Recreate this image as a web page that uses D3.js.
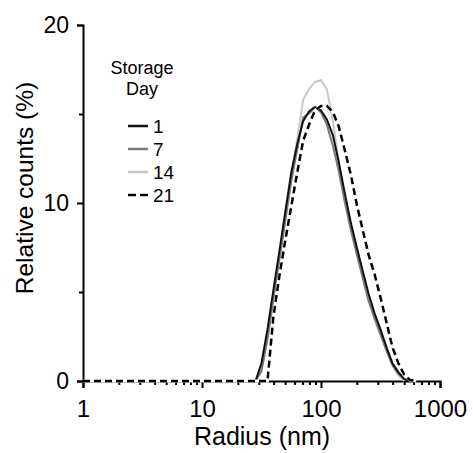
<!DOCTYPE html>
<html>
<head>
<meta charset="utf-8">
<script src="https://cdn.jsdelivr.net/npm/d3@7/dist/d3.min.js"></script>
<style>
  body { margin: 0; background: #fff; }
  svg { font-family: "Liberation Sans", Arial, sans-serif; }
</style>
</head>
<body>
<div id="chart"></div>
<script>
// size distribution (DLS), radius in nm, relative counts in %
var radius = [1, 28.2, 31.6, 35.5, 39.8, 44.7, 50.1, 56.2, 63.1, 70.8, 79.4, 89.1, 100, 112, 126, 141, 158, 178, 200, 224, 251, 282, 316, 355, 398, 447, 501, 562, 631]
var day1  = [null, 0, 1.0, 2.9, 5.1, 7.3, 9.5, 11.7, 13.3, 14.6, 15.15, 15.4, 15.2, 14.7, 13.8, 12.3, 10.6, 8.9, 7.5, 6.2, 4.9, 3.8, 2.9, 1.9, 1.0, 0.5, 0.1, 0, null]
var day7  = [null, 0, 0.6, 2.4, 4.5, 6.8, 9.0, 11.2, 13.0, 14.8, 15.05, 15.35, 15.1, 14.4, 13.2, 11.8, 10.1, 8.5, 7.1, 5.8, 4.5, 3.5, 2.6, 1.7, 0.9, 0.4, 0.1, 0, null]
var day14 = [null, 0, 0.5, 2.3, 4.5, 6.8, 9.1, 11.4, 13.6, 15.8, 16.4, 16.8, 16.9, 16.4, 14.6, 12.3, 10.4, 8.7, 7.3, 6.0, 4.7, 3.6, 2.7, 1.7, 0.9, 0.3, 0, null, null]
var day21 = [0, 0, 0, 0, 3.6, 5.9, 7.9, 9.8, 11.7, 13.5, 14.4, 15.2, 15.45, 15.45, 15.1, 14.3, 13.0, 11.6, 9.9, 8.5, 7.1, 6.0, 4.7, 3.3, 1.9, 1.0, 0.35, 0.05, 0]

var days = ["1", "7", "14", "21"]
var yTicks = [0, 10, 20]
var yMinor = [5, 15]
var xTicks = [1, 10, 100, 1000]

var W = 473, H = 453

var x = d3.scaleLog().domain([1, 1000]).range([83, 440])
var y = d3.scaleLinear().domain([0, 20]).range([381, 25])

var svg = d3.select("#chart").append("svg")
    .attr("width", W)
    .attr("height", H)

// y axis, major + minor ticks
var yAxis = d3.axisLeft(y).tickValues(yTicks).tickSize(6).tickPadding(8).tickFormat(d3.format("d"))
var gy = svg.append("g").attr("transform", "translate(83,0)").call(yAxis)
svg.append("g").attr("transform", "translate(83,0)")
    .call(d3.axisLeft(y).tickValues(yMinor).tickSize(4).tickFormat(""))
    .select(".domain").remove()

// x axis
var minor = []
for (var dec = 1; dec < 1000; dec *= 10) {
    for (var k = 2; k < 10; k++) minor.push(dec * k)
}
var xAxis = d3.axisBottom(x).tickValues(xTicks).tickSize(7).tickPadding(12).tickFormat(d3.format("d"))
var gx = svg.append("g").attr("transform", "translate(0,381)").call(xAxis)
svg.append("g").attr("transform", "translate(0,381)")
    .call(d3.axisBottom(x).tickValues(minor).tickSize(4).tickFormat(""))
    .select(".domain").remove()

svg.selectAll(".domain").attr("stroke", "#000").attr("stroke-width", 2)
svg.selectAll(".tick line").attr("stroke", "#000").attr("stroke-width", 2)
svg.selectAll(".tick text").attr("fill", "#000")
    .attr("font-family", "Liberation Sans, Arial, sans-serif")
gy.selectAll(".tick text").attr("font-size", 23)
gx.selectAll(".tick text").attr("font-size", 24)

// titles
svg.append("text")
    .attr("x", 262).attr("y", 445)
    .attr("text-anchor", "middle")
    .attr("font-size", 25)
    .text("Radius (nm)")
svg.append("text")
    .attr("transform", "translate(33,188) rotate(-90)")
    .attr("text-anchor", "middle")
    .attr("font-size", 24.5)
    .text("Relative counts (%)")

// lines
var line = d3.line()
    .defined(function (d) { return d[1] !== null })
    .x(function (d) { return x(d[0]) })
    .y(function (d) { return y(d[1]) })

function pts(vals) {
    return radius.map(function (r, i) { return [r, vals[i]] })
}

var series = [
    { vals: day14, color: "#c8c8c8" },
    { vals: day7, color: "#7a7a7a" },
    { vals: day1, color: "#111" }
]
series.forEach(function (s) {
    svg.append("path")
        .attr("d", line(pts(s.vals)))
        .attr("fill", "none")
        .attr("stroke", s.color)
        .attr("stroke-width", 2)
})
// day 21 dashed, with white underlay
svg.append("path")
    .attr("d", line(pts(day21)))
    .attr("fill", "none")
    .attr("stroke", "#fff")
    .attr("stroke-width", 3)
svg.append("path")
    .attr("d", line(pts(day21)))
    .attr("fill", "none")
    .attr("stroke", "#000")
    .attr("stroke-width", 2.5)
    .attr("stroke-dasharray", "7,4")

// legend
var lg = svg.append("g")
lg.append("text").attr("x", 142).attr("y", 74).attr("text-anchor", "middle")
    .attr("font-size", 18).text("Storage")
lg.append("text").attr("x", 142).attr("y", 95).attr("text-anchor", "middle")
    .attr("font-size", 18).text("Day")
var legColors = ["#111", "#7a7a7a", "#c8c8c8", "#000"]
var legY = [126, 149, 172, 195]
days.forEach(function (d, i) {
    lg.append("line")
        .attr("x1", 128).attr("x2", 148)
        .attr("y1", legY[i]).attr("y2", legY[i])
        .attr("stroke", legColors[i])
        .attr("stroke-width", 2.5)
        .attr("stroke-dasharray", i == 3 ? "8,4" : null)
    lg.append("text")
        .attr("x", 153).attr("y", legY[i] + 7)
        .attr("font-size", 19)
        .text(d)
})
</script>
</body>
</html>
